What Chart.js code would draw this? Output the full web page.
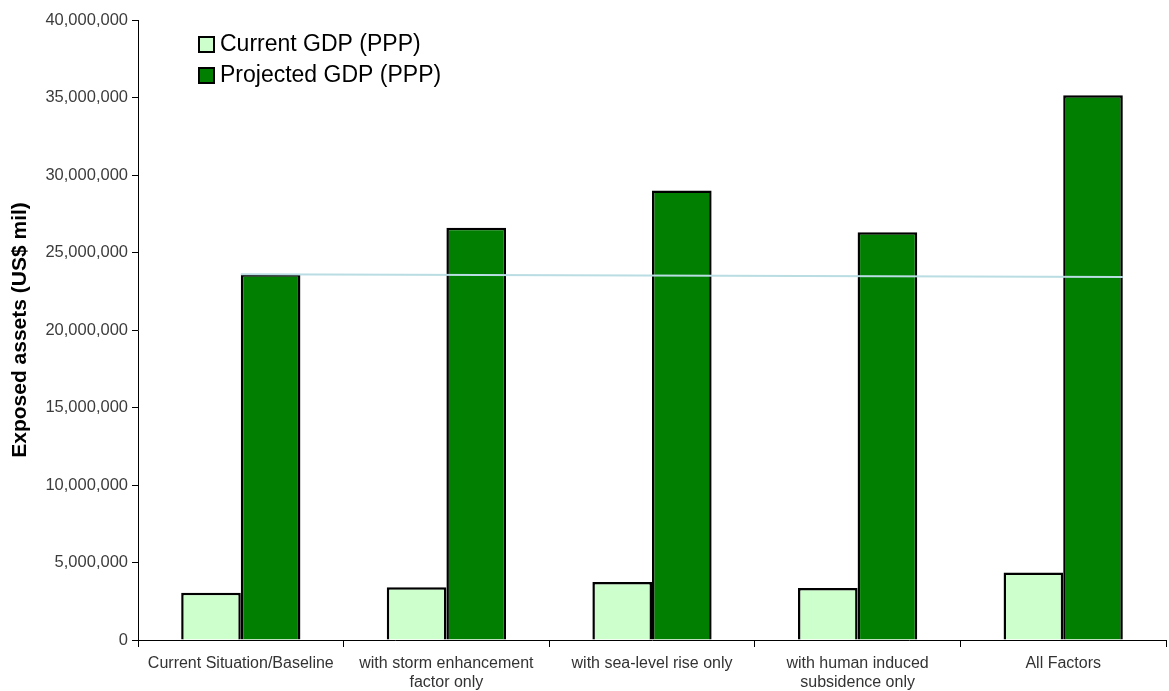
<!DOCTYPE html>
<html>
<head>
<meta charset="utf-8">
<script src="https://cdn.jsdelivr.net/npm/chart.js@4.4.0/dist/chart.umd.min.js"></script>
<style>
  html, body { margin: 0; padding: 0; background: #fff; }
  #wrap { width: 1169px; height: 691px; position: relative; }
</style>
</head>
<body>
<div id="wrap"><canvas id="chart"></canvas></div>
<script>
// chart data
var categories = [
    'Current Situation/Baseline',
    ['with storm enhancement', 'factor only'],
    'with sea-level rise only',
    ['with human induced', 'subsidence only'],
    'All Factors'
];
var currentGdp = [3050000, 3400000, 3750000, 3350000, 4350000];
var projectedGdp = [23600000, 26600000, 29000000, 26300000, 35150000];
var baselineLevel = [23600000, 23420000]; // light blue reference line, start / end
var yTicks = [0, 5000000, 10000000, 15000000, 20000000, 25000000, 30000000, 35000000, 40000000];

var fontFamily = "'Liberation Sans', Arial, sans-serif";

// reference line across the projected bars
var baselinePlugin = {
    id: 'baselineLine',
    afterDatasetsDraw: function (chart) {
        var meta = chart.getDatasetMeta(1);
        var first = meta.data[0], last = meta.data[meta.data.length - 1];
        var y = chart.scales.y;
        var c = chart.ctx;
        c.save();
        c.strokeStyle = '#b9dde2';
        c.lineWidth = 2;
        c.beginPath();
        c.moveTo(first.x - first.width / 2, y.getPixelForValue(baselineLevel[0]));
        c.lineTo(last.x + last.width / 2, y.getPixelForValue(baselineLevel[1]));
        c.stroke();
        c.restore();
    }
};

// legend drawn inside the plot area
var insideLegend = {
    id: 'insideLegend',
    afterDraw: function (chart) {
        var c = chart.ctx;
        var area = chart.chartArea;
        c.save();
        c.font = '23px ' + fontFamily;
        c.textBaseline = 'middle';
        chart.data.datasets.forEach(function (ds, i) {
            var x = area.left + 61;
            var yc = area.top + 24 + i * 31;
            c.fillStyle = ds.backgroundColor;
            c.fillRect(x, yc - 7, 15, 15);
            c.strokeStyle = '#000';
            c.lineWidth = 2;
            c.strokeRect(x, yc - 7, 15, 15);
            c.fillStyle = '#000';
            c.fillText(ds.label, x + 21, yc + 1);
        });
        c.restore();
    }
};

var ctx = document.getElementById('chart').getContext('2d');

var myChart = new Chart(ctx, {
    type: 'bar',
    data: {
        labels: categories,
        datasets: [{
            label: 'Current GDP (PPP)',
            data: currentGdp,
            backgroundColor: '#ccffcc',
            borderColor: '#000',
            borderWidth: 2.5,
            borderSkipped: 'bottom',
            categoryPercentage: 0.58,
            barPercentage: 1.0
        }, {
            label: 'Projected GDP (PPP)',
            data: projectedGdp,
            backgroundColor: '#007f00',
            borderColor: '#000',
            borderWidth: 2.5,
            borderSkipped: 'bottom',
            categoryPercentage: 0.58,
            barPercentage: 1.0
        }]
    },
    plugins: [baselinePlugin, insideLegend],
    options: {
        responsive: true,
        maintainAspectRatio: false,
        animation: false,
        layout: {
            padding: { top: 20, right: 3, left: 0, bottom: 0 }
        },
        plugins: {
            legend: { display: false },
            tooltip: { enabled: false }
        },
        scales: {
            x: {
                grid: {
                    display: true,
                    drawOnChartArea: false,
                    drawTicks: true,
                    tickLength: 7,
                    color: '#000',
                    offset: true
                },
                border: { color: '#000', width: 1 },
                ticks: {
                    font: { family: fontFamily, size: 16, lineHeight: 1.2 },
                    color: '#333',
                    padding: 7,
                    maxRotation: 0,
                    autoSkip: false
                },
                afterFit: function (s) { s.height = 51; }
            },
            y: {
                min: 0,
                max: 40000000,
                afterBuildTicks: function (s) {
                    s.ticks = yTicks.map(function (v) { return { value: v }; });
                },
                grid: {
                    drawOnChartArea: false,
                    drawTicks: true,
                    tickLength: 6,
                    color: '#000'
                },
                border: { color: '#000', width: 1 },
                ticks: {
                    font: { family: fontFamily, size: 16.5 },
                    color: '#3c3c3c',
                    padding: 4,
                    callback: function (v) { return Number(v).toLocaleString('en-US'); }
                },
                title: {
                    display: true,
                    text: 'Exposed assets (US$ mil)',
                    font: { family: fontFamily, size: 21, weight: 'bold' },
                    color: '#000',
                    padding: { top: 8, bottom: 0 }
                },
                afterFit: function (s) { s.width = 138; }
            }
        }
    }
});
</script>
</body>
</html>
